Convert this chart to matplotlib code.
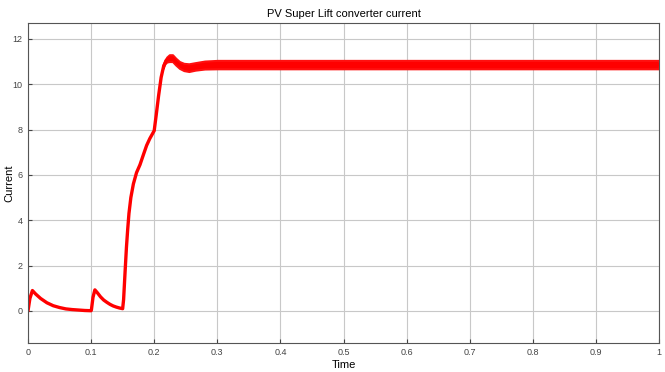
import numpy as np
import matplotlib.pyplot as plt

plt.rcParams['font.family'] = ['Liberation Sans', 'DejaVu Sans']

# Waveform (time in s, current in A)
t_pts = [0.0, 0.003, 0.007, 0.012, 0.02, 0.03, 0.04, 0.05, 0.06, 0.07, 0.08, 0.09, 0.1,
         0.1005, 0.103, 0.106, 0.11, 0.115, 0.12, 0.125, 0.13, 0.135, 0.14, 0.145, 0.15,
         0.1515, 0.154, 0.156, 0.158, 0.16, 0.163, 0.167, 0.172, 0.1775, 0.183, 0.188,
         0.193, 0.197, 0.2, 0.203, 0.207, 0.211, 0.215, 0.219, 0.224, 0.229, 0.234,
         0.24, 0.247, 0.255, 0.265, 0.28, 0.3, 0.5, 0.75, 1.0]
i_pts = [0.0, 0.55, 0.9, 0.75, 0.55, 0.36, 0.23, 0.15, 0.09, 0.06, 0.04, 0.02, 0.01,
         0.05, 0.6, 0.93, 0.8, 0.62, 0.48, 0.38, 0.29, 0.22, 0.17, 0.13, 0.1,
         0.5, 1.8, 2.8, 3.6, 4.3, 5.0, 5.6, 6.1, 6.45, 6.9, 7.3,
         7.6, 7.8, 7.95, 8.6, 9.5, 10.3, 10.8, 11.05, 11.15, 11.15, 11.0,
         10.85, 10.75, 10.72, 10.78, 10.84, 10.86, 10.86, 10.86, 10.86]

# Switching ripple envelope once the converter reaches steady state
t_band = [0.214, 0.217, 0.22, 0.224, 0.229, 0.234, 0.24, 0.247, 0.255, 0.265, 0.28, 0.3, 0.5, 0.75, 1.0]
i_upper = [10.85, 11.05, 11.2, 11.3, 11.3, 11.15, 11.0, 10.92, 10.9, 10.95, 11.02, 11.05, 11.05, 11.05, 11.05]
i_lower = [10.7, 10.9, 10.98, 11.0, 11.0, 10.85, 10.7, 10.6, 10.56, 10.62, 10.67, 10.68, 10.68, 10.68, 10.68]

x_ticks = [0, 0.1, 0.2, 0.3, 0.4, 0.5, 0.6, 0.7, 0.8, 0.9, 1]
x_labels = ['0', '0.1', '0.2', '0.3', '0.4', '0.5', '0.6', '0.7', '0.8', '0.9', '1']
y_ticks = [0, 2, 4, 6, 8, 10, 12]

fig = plt.figure(figsize=(6.65, 3.72), dpi=100)
ax = fig.add_axes([0.0421, 0.0788, 0.9489, 0.8594])

ax.plot(t_pts, i_pts, color='#ff0000', lw=2.4, solid_capstyle='round', solid_joinstyle='round')
ax.fill_between(t_band, i_lower, i_upper, color='#ff0000', lw=1.5, edgecolor='#ff1010')

ax.set_xlim(0, 1)
ax.set_ylim(-1.4, 12.7)
ax.set_xticks(x_ticks)
ax.set_xticklabels(x_labels)
ax.set_yticks(y_ticks)
ax.grid(True, color='#c8c8c8', lw=0.8)
ax.set_axisbelow(True)
ax.tick_params(direction='in', length=3, labelsize=6.5, colors='#444444', pad=4)
for s in ax.spines.values():
    s.set_color('#555555')
    s.set_linewidth(0.8)

ax.set_title('PV Super Lift converter current', fontsize=8, pad=4)
ax.set_xlabel('Time', fontsize=8, labelpad=2)
ax.set_ylabel('Current', fontsize=8)
ax.yaxis.set_label_coords(-0.022, 0.5)

fig.savefig('out.png', dpi=100, facecolor='white')
